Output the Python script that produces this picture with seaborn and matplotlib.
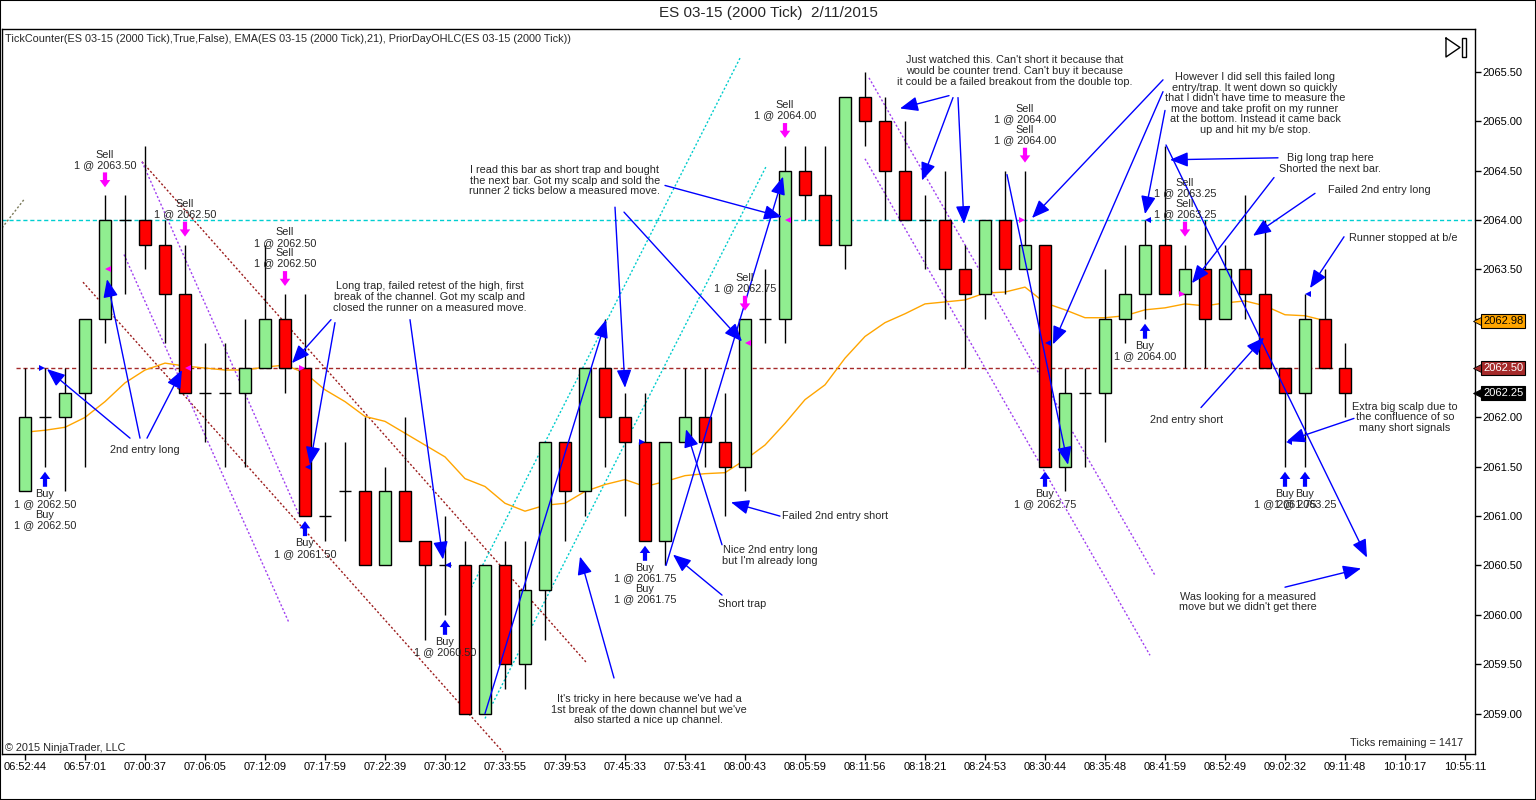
import matplotlib
matplotlib.use("Agg")
import matplotlib.pyplot as plt
import matplotlib.transforms as mtransforms
from matplotlib.patches import Rectangle
import seaborn as sns

# ---------------- data ----------------
opens = [2061.25, 2062.00, 2062.00, 2062.25, 2063.00, 2064.00, 2064.00, 2063.75, 2063.25, 2062.25,
         2062.25, 2062.25, 2062.50, 2063.00, 2062.50, 2061.00, 2061.25, 2061.25, 2060.50, 2061.25,
         2060.75, 2060.50, 2060.50, 2059.00, 2060.50, 2059.50, 2060.25, 2061.75, 2061.25, 2062.50,
         2062.00, 2061.75, 2060.75, 2061.75, 2062.00, 2061.75, 2061.50, 2063.00, 2063.00, 2064.50,
         2064.25, 2063.75, 2065.25, 2065.00, 2064.50, 2064.00, 2064.00, 2063.50, 2063.25, 2064.00,
         2063.50, 2063.75, 2061.50, 2062.25, 2062.25, 2063.00, 2063.25, 2063.75, 2063.25, 2063.50,
         2063.00, 2063.50, 2063.25, 2062.50, 2062.25, 2063.00, 2062.50]
highs = [2062.50, 2062.50, 2062.50, 2063.00, 2064.25, 2064.25, 2064.75, 2064.00, 2063.75, 2062.75,
         2062.75, 2063.00, 2063.75, 2063.25, 2063.25, 2061.75, 2061.75, 2062.00, 2061.50, 2062.00,
         2060.75, 2061.00, 2060.75, 2060.50, 2060.75, 2060.75, 2061.75, 2061.75, 2062.50, 2063.00,
         2062.25, 2062.25, 2061.75, 2062.50, 2062.50, 2062.25, 2063.00, 2063.50, 2064.75, 2064.75,
         2064.75, 2065.25, 2065.50, 2065.25, 2065.00, 2064.25, 2064.50, 2063.75, 2064.00, 2064.50,
         2064.50, 2063.75, 2062.50, 2062.50, 2063.50, 2063.75, 2064.00, 2064.75, 2063.75, 2064.00,
         2063.75, 2064.25, 2064.00, 2062.50, 2063.25, 2063.50, 2062.75]
lows = [2061.25, 2061.50, 2061.25, 2061.50, 2062.75, 2063.25, 2063.50, 2062.75, 2062.25, 2061.75,
        2061.50, 2061.50, 2062.50, 2062.25, 2061.00, 2060.75, 2060.75, 2060.50, 2060.50, 2060.75,
        2059.75, 2060.00, 2059.00, 2059.00, 2059.25, 2059.25, 2059.75, 2060.75, 2061.00, 2061.50,
        2061.00, 2060.75, 2060.50, 2061.75, 2061.50, 2061.00, 2061.25, 2062.75, 2062.75, 2064.00,
        2063.75, 2063.50, 2064.75, 2064.00, 2064.00, 2063.50, 2063.00, 2062.50, 2063.00, 2063.25,
        2063.50, 2061.50, 2061.25, 2061.50, 2061.75, 2062.75, 2063.00, 2063.25, 2062.50, 2062.50,
        2063.00, 2063.00, 2062.50, 2061.50, 2061.50, 2062.50, 2062.00]
closes = [2062.00, 2062.00, 2062.25, 2063.00, 2064.00, 2064.00, 2063.75, 2063.25, 2062.25, 2062.25,
          2062.25, 2062.50, 2063.00, 2062.50, 2061.00, 2061.00, 2061.25, 2060.50, 2061.25, 2060.75,
          2060.50, 2060.50, 2059.00, 2060.50, 2059.50, 2060.25, 2061.75, 2061.25, 2062.50, 2062.00,
          2061.75, 2060.75, 2061.75, 2062.00, 2061.75, 2061.50, 2063.00, 2063.00, 2064.50, 2064.25,
          2063.75, 2065.25, 2065.00, 2064.50, 2064.00, 2064.00, 2063.50, 2063.25, 2064.00, 2063.50,
          2063.75, 2061.50, 2062.25, 2062.25, 2063.00, 2063.25, 2063.75, 2063.25, 2063.50, 2063.00,
          2063.50, 2063.25, 2062.50, 2062.25, 2063.00, 2062.50, 2062.25]
ema21 = [2061.85, 2061.87, 2061.90, 2062.00, 2062.16, 2062.35, 2062.48, 2062.55, 2062.52, 2062.50,
         2062.48, 2062.48, 2062.51, 2062.53, 2062.45, 2062.28, 2062.16, 2062.01, 2061.96, 2061.84,
         2061.72, 2061.60, 2061.38, 2061.30, 2061.13, 2061.05, 2061.11, 2061.13, 2061.25, 2061.32,
         2061.37, 2061.30, 2061.35, 2061.41, 2061.43, 2061.44, 2061.57, 2061.72, 2061.94, 2062.18,
         2062.33, 2062.60, 2062.82, 2062.96, 2063.05, 2063.15, 2063.17, 2063.19, 2063.26, 2063.27,
         2063.32, 2063.16, 2063.09, 2063.01, 2063.01, 2063.03, 2063.09, 2063.11, 2063.15, 2063.13,
         2063.16, 2063.18, 2063.13, 2063.04, 2063.03, 2062.98]
time_labels = ['06:52:44', '06:57:01', '07:00:37', '07:06:05', '07:12:09', '07:17:59', '07:22:39',
               '07:30:12', '07:33:55', '07:39:53', '07:45:33', '07:53:41', '08:00:43', '08:05:59',
               '08:11:56', '08:18:21', '08:24:53', '08:30:44', '08:35:48', '08:41:59', '08:52:49',
               '09:02:32', '09:11:48', '10:10:17', '10:55:11']
time_label_bars = [0, 3, 6, 9, 12, 15, 18, 21, 24, 27, 30, 33, 36, 39, 42, 45, 48, 51, 54, 57, 60, 63, 66, 69, 72]
price_ticks = [2059.00, 2059.50, 2060.00, 2060.50, 2061.00, 2061.50, 2062.00, 2062.50,
               2063.00, 2063.50, 2064.00, 2064.50, 2065.00, 2065.50]

prior_day_level = 2062.50
cyan_level = 2064.00
last_price = 2062.25
ema_last = 2062.98
ticks_remaining = 1417

# executions: (bar, label, count)
sell_signals = [(4, '1 @ 2063.50', 1), (8, '1 @ 2062.50', 1), (13, '1 @ 2062.50', 2),
                (36, '1 @ 2062.75', 1), (38, '1 @ 2064.00', 1), (50, '1 @ 2064.00', 2),
                (58, '1 @ 2063.25', 2)]
buy_signals = [(1, '1 @ 2062.50', 2), (14, '1 @ 2061.50', 1), (21, '1 @ 2060.50', 1),
               (31, '1 @ 2061.75', 2), (51, '1 @ 2062.75', 1), (56, '1 @ 2064.00', 1),
               (63, '1 @ 2061.75', 1), (64, '1 @ 2063.25', 1)]
# fill markers: (bar position, price, direction)
sell_fills = [(4.17, 2063.50, '<'), (8.15, 2062.50, '<'), (13.85, 2062.50, '>'),
              (36.15, 2062.75, '<'), (38.15, 2064.00, '<'), (49.85, 2064.00, '>'),
              (57.85, 2063.25, '>')]
buy_fills = [(0.85, 2062.50, '>'), (14.15, 2061.50, '<'), (21.15, 2060.50, '<'),
             (30.85, 2061.75, '>'), (51.15, 2062.75, '<'), (56.15, 2064.00, '<'),
             (63.2, 2061.75, '<'), (64.15, 2063.25, '<')]

# trend lines: (x0, p0, x1, p1, colour)
trend_lines = [
    (5.85, 2064.59, 28.1, 2059.51, '#9B1C1C'),
    (2.9, 2063.37, 23.9, 2058.61, '#9B1C1C'),
    (5.85, 2064.59, 13.75, 2060.99, '#A040F0'),
    (4.95, 2063.65, 13.2, 2059.92, '#A040F0'),
    (21.75, 2060.05, 35.75, 2065.64, '#00CCCC'),
    (23.0, 2058.95, 37.05, 2064.54, '#00CCCC'),
    (42.2, 2065.44, 56.5, 2060.40, '#A040F0'),
    (42.0, 2064.62, 56.25, 2059.59, '#A040F0'),
    (-1.15, 2063.92, 0.0, 2064.22, '#7A7A5A'),
]

# annotation arrows: (tail x, tail p, head x, head p)
arrows = [
    (5.25, 2061.79, 1.1, 2062.49), (5.75, 2061.79, 4.1, 2063.40), (6.1, 2061.79, 7.85, 2062.48),
    (15.3, 2062.99, 13.35, 2062.55), (15.5, 2062.96, 14.25, 2061.52), (19.25, 2062.99, 20.9, 2060.56),
    (29.5, 2064.13, 30.0, 2062.30), (29.95, 2064.08, 35.85, 2062.77), (32.0, 2064.35, 37.85, 2064.03),
    (23.0, 2059.0, 29.05, 2062.99), (32.05, 2060.50, 37.9, 2064.44),
    (29.45, 2059.36, 27.75, 2060.59), (34.85, 2060.20, 32.4, 2060.61), (34.85, 2060.71, 33.05, 2061.88),
    (37.75, 2061.00, 35.3, 2061.14),
    (46.2, 2065.26, 43.75, 2065.13), (46.4, 2065.24, 44.85, 2064.40), (46.65, 2065.24, 46.95, 2063.96),
    (56.9, 2065.42, 50.35, 2064.02), (56.9, 2065.30, 51.4, 2062.74), (57.0, 2065.11, 56.0, 2064.06),
    (49.1, 2064.46, 52.15, 2061.52),
    (62.65, 2064.63, 57.25, 2064.61), (62.45, 2064.43, 58.35, 2063.36), (64.5, 2064.27, 61.4, 2063.84),
    (65.95, 2063.83, 64.25, 2063.31), (58.8, 2062.10, 61.95, 2062.81), (66.45, 2061.99, 63.1, 2061.76),
    (57.05, 2064.76, 67.1, 2060.58), (63.0, 2060.28, 66.8, 2060.47),
]

comments = [
    (6.0, 2061.67, '2nd entry long'),
    (20.25, 2063.22, 'Long trap, failed retest of the high, first\nbreak of the channel. Got my scalp and\nclosed the runner on a measured move.'),
    (27.0, 2064.40, 'I read this bar as short trap and bought\nthe next bar. Got my scalp and sold the\nrunner 2 ticks below a measured move.'),
    (49.5, 2065.51, "Just watched this. Can't short it because that\nwould be counter trend. Can't buy it because\nit could be a failed breakout from the double top."),
    (61.5, 2065.18, "However I did sell this failed long\nentry/trap. It went down so quickly\nthat I didn't have time to measure the\nmove and take profit on my runner\nat the bottom. Instead it came back\nup and hit my b/e stop."),
    (65.25, 2064.57, 'Big long trap here\nShorted the next bar.'),
    (67.7, 2064.30, 'Failed 2nd entry long'),
    (68.9, 2063.82, 'Runner stopped at b/e'),
    (58.1, 2061.97, '2nd entry short'),
    (69.0, 2062.00, 'Extra big scalp due to\nthe confluence of so\nmany short signals'),
    (61.15, 2060.13, "Was looking for a measured\nmove but we didn't get there"),
    (31.2, 2059.04, "It's tricky in here because we've had a\n1st break of the down channel but we've\nalso started a nice up channel."),
    (40.5, 2061.00, 'Failed 2nd entry short'),
    (37.25, 2060.60, "Nice 2nd entry long\nbut I'm already long"),
    (35.87, 2060.11, 'Short trap'),
]

# ---------------- style ----------------
sns.set_theme(style='white')
plt.rcParams['font.family'] = ['Liberation Sans', 'DejaVu Sans']
FS = 7.8
UP, DOWN = '#90EE90', '#FF0000'
BLUE, MAGENTA = '#0000FF', '#FF00FF'

fig = plt.figure(figsize=(15.36, 8), dpi=100)
fig.patch.set_facecolor('white')
ax = fig.add_axes([2 / 1536, 46 / 800, 1473 / 1536, 725 / 800])
ax.set_facecolor('white')
ax.set_xlim(-1.15, 72.5)
ax.set_ylim(2058.59, 2065.935)

n = len(opens)
idx = list(range(n))

# horizontal reference lines
ax.axhline(cyan_level, color='#00CED1', lw=1, ls=(0, (3, 2)), zorder=1)
ax.hlines(prior_day_level, -0.45, 65.5, color='#A52A2A', lw=1, ls=(0, (3, 2)), zorder=1)

# trend lines
for x0, p0, x1, p1, c in trend_lines:
    ax.plot([x0, x1], [p0, p1], color=c, lw=1, ls=(0, (1.5, 1.5)), zorder=2)

# EMA
sns.lineplot(x=idx[:len(ema21)], y=ema21, ax=ax, color='#FFA500', lw=1, zorder=3, legend=False)

# candles
ax.vlines(idx, lows, highs, color='black', lw=1, zorder=4)
bw = 0.62
for i in idx:
    o, c = opens[i], closes[i]
    if o == c:
        ax.hlines(o, i - bw / 2, i + bw / 2, color='black', lw=1, zorder=5)
    else:
        ax.bar(i, abs(c - o), bottom=min(o, c), width=bw, color=UP if c > o else DOWN,
               edgecolor='black', linewidth=1, zorder=5)

# executions
thick = dict(arrowstyle='simple,head_length=0.65,head_width=0.95,tail_width=0.38',
             mutation_scale=8, shrinkA=0, shrinkB=0)
for i, lab, k in sell_signals:
    ax.annotate('', xy=(i, highs[i]), xytext=(0, 16.5), textcoords='offset points',
                arrowprops=dict(color=MAGENTA, lw=0, **{**thick, 'shrinkB': 5.8}), zorder=8)
    ax.annotate('\n'.join(['Sell\n' + lab] * k), xy=(i, highs[i]), xytext=(0, 18.3),
                textcoords='offset points', ha='center', va='bottom', fontsize=FS,
                linespacing=1.05, zorder=8)
for i, lab, k in buy_signals:
    ax.annotate('', xy=(i, lows[i]), xytext=(0, -14.4), textcoords='offset points',
                arrowprops=dict(color=BLUE, lw=0, **{**thick, 'shrinkB': 3.6}), zorder=8)
    ax.annotate('\n'.join(['Buy\n' + lab] * k), xy=(i, lows[i]), xytext=(0, -16.0),
                textcoords='offset points', ha='center', va='top', fontsize=FS,
                linespacing=1.05, zorder=8)
for x, p, m in sell_fills:
    ax.plot([x], [p], marker=m, ms=5, color=MAGENTA, mew=0, zorder=9)
for x, p, m in buy_fills:
    ax.plot([x], [p], marker=m, ms=5, color=BLUE, mew=0, zorder=9)

# annotation arrows
for x0, p0, x1, p1 in arrows:
    ax.annotate('', xy=(x1, p1), xytext=(x0, p0),
                arrowprops=dict(arrowstyle='-|>,head_length=1.1,head_width=0.45', color=BLUE,
                                lw=1, shrinkA=0, shrinkB=0, mutation_scale=10), zorder=7)
for x, p, t in comments:
    ax.text(x, p, t, ha='center', va='center', fontsize=FS, linespacing=1.07, zorder=8)

# axes chrome
for s in ax.spines.values():
    s.set_color('black')
    s.set_linewidth(1)
ax.yaxis.tick_right()
ax.set_yticks(price_ticks)
ax.set_yticklabels([f'{p:.2f}' for p in price_ticks])
ax.set_xticks(time_label_bars)
ax.set_xticklabels(time_labels)
ax.tick_params(axis='y', which='both', right=True, left=False, direction='out', length=4,
               width=1, pad=1, labelsize=8, colors='black')
ax.tick_params(axis='x', which='both', bottom=True, direction='out', length=4, width=1,
               pad=2, labelsize=8, colors='black')
ax.grid(False)

trans = mtransforms.blended_transform_factory(ax.transAxes, ax.transData)
for price, fc, tc in [(ema_last, '#FFA500', 'black'), (prior_day_level, '#A52A2A', 'white'),
                      (last_price, '#000000', 'white')]:
    ax.text(1.0055, price, f'{price:.2f}', transform=trans, ha='left', va='center', fontsize=8,
            color=tc, clip_on=False, zorder=20,
            bbox=dict(boxstyle='square,pad=0.18', fc=fc, ec='black', lw=0.8))
    ax.plot([1.0022], [price], marker='<', ms=7, color=fc, mec='black', mew=0.6,
            transform=trans, clip_on=False, zorder=19)

ax.text(0.002, 0.986, 'TickCounter(ES 03-15 (2000 Tick),True,False), EMA(ES 03-15 (2000 Tick),21), '
        'PriorDayOHLC(ES 03-15 (2000 Tick))', transform=ax.transAxes, ha='left', va='center',
        fontsize=FS)
ax.text(0.002, 0.0087, '\u00a9 2015 NinjaTrader, LLC', transform=ax.transAxes, ha='left',
        va='center', fontsize=FS)
ax.text(0.992, 0.0156, f'Ticks remaining = {ticks_remaining}', transform=ax.transAxes,
        ha='right', va='center', fontsize=FS)

# playback glyph
ax.plot([0.9803, 0.9803, 0.9898, 0.9803], [0.9876, 0.9614, 0.9745, 0.9876], color='black',
        lw=1, transform=ax.transAxes)
ax.add_patch(Rectangle((0.9912, 0.9614), 0.0027, 0.0262, fill=False, ec='black', lw=1,
                       transform=ax.transAxes))

fig.text(0.5, 1 - 13 / 800, 'ES 03-15 (2000 Tick)  2/11/2015', ha='center', va='center',
         fontsize=11)
fig.patches.append(Rectangle((0, 0), 1, 1, transform=fig.transFigure, fill=False,
                             ec='black', lw=1.5))

fig.savefig('out.png', dpi=100, facecolor='white')
